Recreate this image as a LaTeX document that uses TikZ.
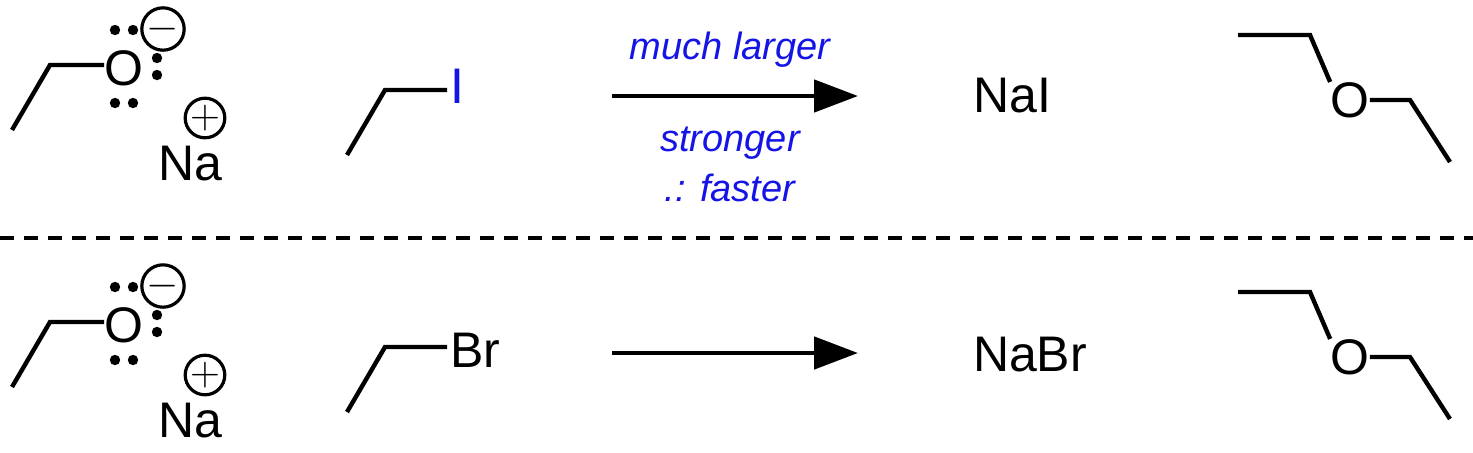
\documentclass[tikz,border=0pt]{standalone}
\usepackage{fontspec}
\setmainfont{Liberation Sans}
\usetikzlibrary{arrows.meta}
\definecolor{lblue}{RGB}{20,20,230}
\begin{document}
\begin{tikzpicture}[x=0.5pt,y=-0.5pt,
  bond/.style={line width=2.2pt},
  atom/.style={inner sep=0pt,font=\fontsize{25}{28}\selectfont},
  lbl/.style={inner sep=0pt,font=\fontsize{19}{22}\selectfont\itshape,text=lblue},
  chg/.style={draw,circle,line width=1.6pt,minimum size=17pt,inner sep=0pt}]
\useasboundingbox (0,0) rectangle (1473,452);
\foreach \dy/\r in {0/a,257/b}{
  \begin{scope}[yshift=-\dy*0.5pt]
  \node[atom] (O\r) at (124,68) {O};
  \coordinate (e1\r) at (12,130); \coordinate (e2\r) at (50,65);
  \draw[bond] (e1\r) -- (e2\r) -- (O\r.west |- e2\r);
  \fill (115,30) circle[radius=2.6pt] (133,30) circle[radius=2.6pt]
        (157,58) circle[radius=2.6pt] (157,75) circle[radius=2.6pt]
        (115,103) circle[radius=2.6pt] (133,103) circle[radius=2.6pt];
  \node[chg] (m\r) at (163,29) {\fontsize{22}{22}\selectfont$-$};
  \node[chg] (p\r) at (205,118) {\fontsize{22}{22}\selectfont$+$};
  \node[atom] (Na\r) at (190,164) {Na};
  \coordinate (r1\r) at (347,155); \coordinate (r2\r) at (385,90);
  \draw[bond] (r1\r) -- (r2\r) -- (447,90);
  \coordinate (a1\r) at (612,96); \coordinate (a2\r) at (858,96);
  \draw[line width=2.4pt,-{Triangle[length=22pt,width=16pt]}] (a1\r) -- (a2\r);
  \node[atom] (O2\r) at (1350,100) {O};
  \coordinate (d1\r) at (1238,35); \coordinate (d2\r) at (1310,35);
  \coordinate (d3\r) at (1410,100); \coordinate (d4\r) at (1450,162);
  \draw[bond] (d1\r) -- (d2\r) -- (O2\r.north west);
  \draw[bond] (O2\r.east) -- (d3\r) -- (d4\r);
  \end{scope}}
\node[atom,text=lblue,anchor=west] (I) at (450,86) {I};
\node[atom,anchor=west] (Br) at (450,350) {Br};
\node[atom] (NaI) at (1012,96) {NaI};
\node[atom] (NaBr) at (1030,355) {NaBr};
\node[lbl] (t1) at (730,50) {much larger};
\node[lbl] (t2) at (730,143) {stronger};
\node[lbl] (t3) at (730,188) {.: faster};
\draw[line width=2pt,dash pattern=on 7pt off 5pt] (0,238) -- (1473,238);
\end{tikzpicture}
\end{document}
